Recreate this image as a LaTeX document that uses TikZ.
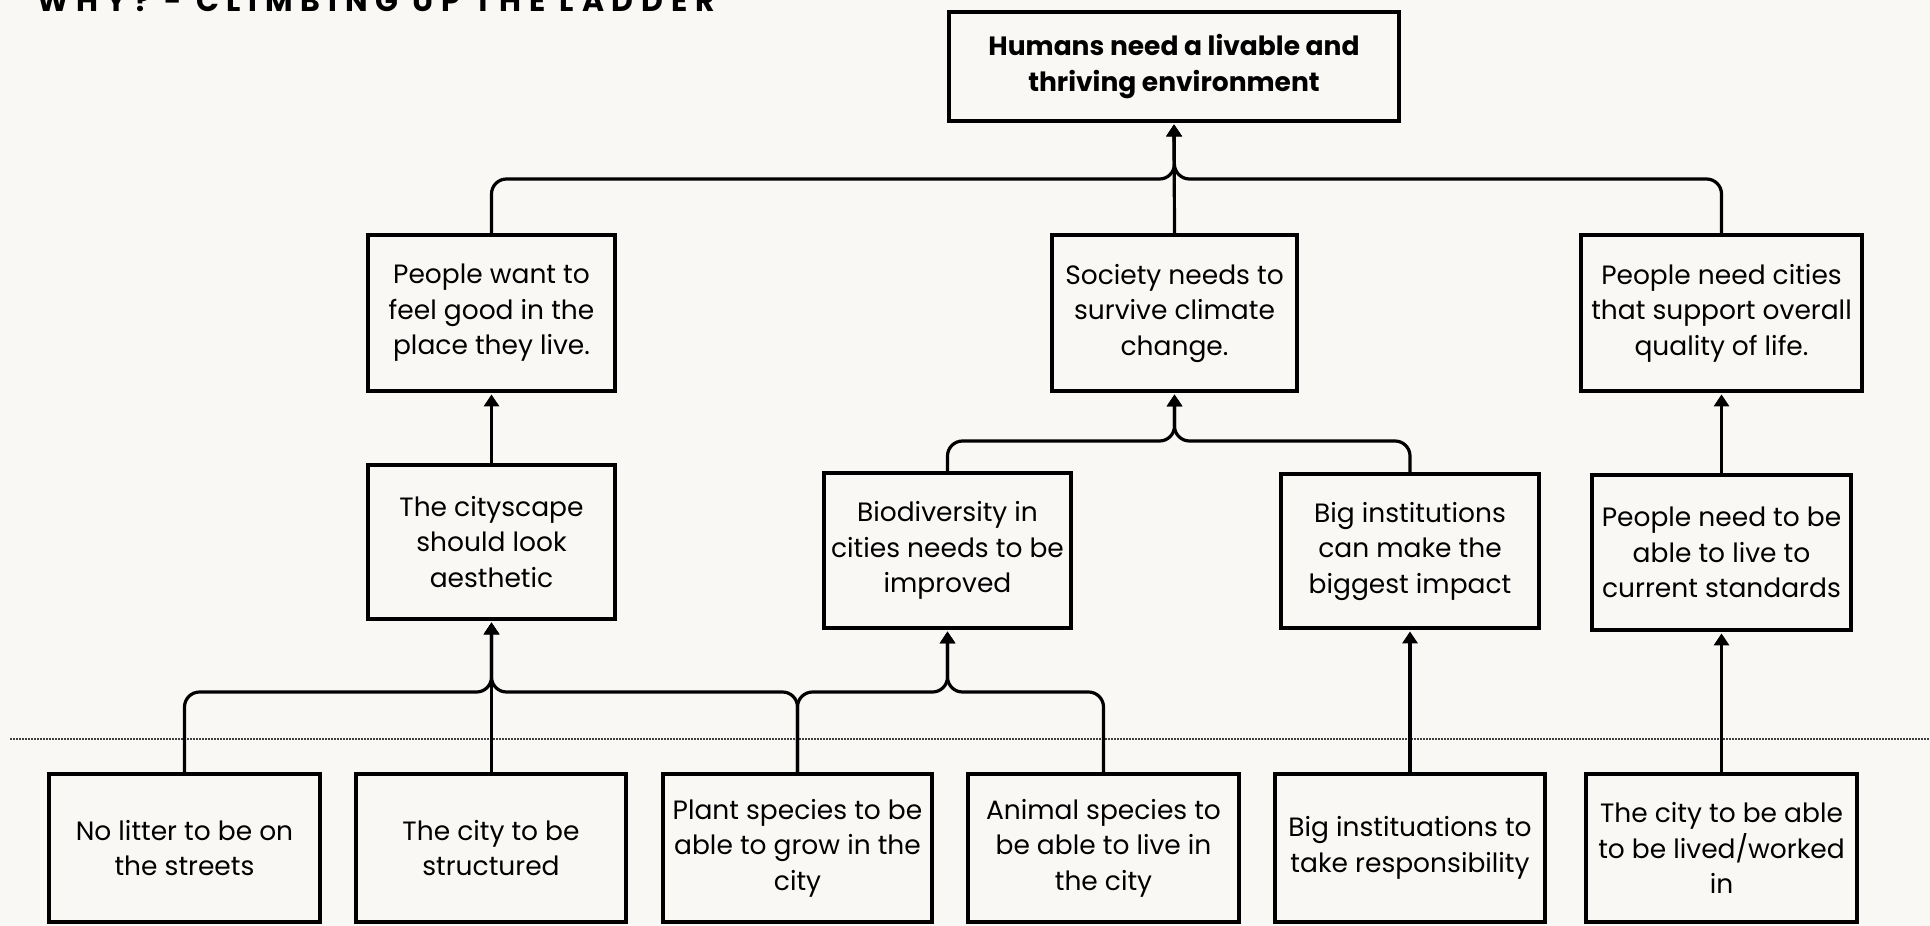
\documentclass[tikz,border=0pt]{standalone}
\usepackage{fontspec}
\setmainfont{Poppins}
\newfontfamily\titlefont[LetterSpace=26]{Poppins}
\usetikzlibrary{arrows.meta,calc}
\definecolor{bg}{HTML}{F9F8F5}
\begin{document}
\begin{tikzpicture}[x=1pt,y=-1pt,
  box/.style={draw,line width=3.8pt,align=center,font=\fontsize{26.5}{35.5}\selectfont,inner sep=0pt,fill=bg},
  conn/.style={line width=3.2pt,rounded corners=15pt,shorten >=1.5pt,-{Triangle[width=15pt,length=12pt]}},
  sep/.style={line width=1.5pt,dash pattern=on 1.5pt off 1.5pt,black!75},
]
\fill[bg] (0,0) rectangle (1930,926);
\useasboundingbox (0,0) rectangle (1930,926);

\node[anchor=base west,inner sep=0pt] (title) at (37,11) {\titlefont\bfseries\fontsize{30}{30}\selectfont WHY? - CLIMBING UP THE LADDER};

\draw[sep] (10,739) -- (1930,739);

% top
\node[box,minimum width=450pt,minimum height=109pt] (T) at (1174,66.5) {\bfseries Humans need a livable and\\\bfseries thriving environment};
% level 2
\node[box,minimum width=247pt,minimum height=156pt] (A) at (491.5,313) {People want to\\feel good in the\\place they live.};
\node[box,minimum width=245pt,minimum height=156pt] (B) at (1174.5,313) {Society needs to\\survive climate\\change.};
\node[box,minimum width=281pt,minimum height=156pt] (C) at (1721.5,313) {People need cities\\that support overall\\quality of life.};
% level 3
\node[box,minimum width=247pt,minimum height=154pt] (D) at (491.5,542) {The cityscape\\should look\\aesthetic};
\node[box,minimum width=247pt,minimum height=155pt] (E) at (947.5,550.5) {Biodiversity in\\cities needs to be\\improved};
\node[box,minimum width=258pt,minimum height=154pt] (F) at (1410,551) {Big institutions\\can make the\\biggest impact};
\node[box,minimum width=259pt,minimum height=155pt] (G) at (1721.5,552.5) {People need to be\\able to live to\\current standards};
% bottom
\node[box,minimum width=271pt,minimum height=148pt] (b1) at (184.5,848) {No litter to be on\\the streets};
\node[box,minimum width=270pt,minimum height=148pt] (b2) at (491,848) {The city to be\\structured};
\node[box,minimum width=269pt,minimum height=148pt] (b3) at (797.5,848) {Plant species to be\\able to grow in the\\city};
\node[box,minimum width=271pt,minimum height=148pt] (b4) at (1103.5,848) {Animal species to\\be able to live in\\the city};
\node[box,minimum width=270pt,minimum height=148pt] (b5) at (1410,848) {Big instituations to\\take responsibility};
\node[box,minimum width=271pt,minimum height=148pt] (b6) at (1721.5,848) {The city to be able\\to be lived/worked\\in};

% junctions
\coordinate (jT) at (1174.5,179);
\coordinate (jB) at (1174.5,441);
\coordinate (jD) at (491.5,692);
\coordinate (jE) at (947.5,692);

% connectors
\draw[conn] (A.north) |- (jT) -- (T.south);
\draw[conn] (C.north) |- (jT) -- (T.south);
\draw[conn] (B.north) -- (T.south);

\draw[conn] (D.north) -- (A.south);
\draw[conn] (G.north) -- (C.south);

\draw[conn] (E.north) |- (jB) -- (B.south);
\draw[conn] (F.north) |- (jB) -- (B.south);

\draw[conn] (b1.north) |- (jD) -- (D.south);
\draw[conn] (b2.north -| D.south) -- (D.south);
\draw[conn] (b3.north) |- (jD) -- (D.south);
\draw[conn] (b3.north) |- (jE) -- (E.south);
\draw[conn] (b4.north) |- (jE) -- (E.south);
\draw[conn] (b5.north) -- (F.south);
\draw[conn] (b6.north) -- (G.south);
\end{tikzpicture}
\end{document}
